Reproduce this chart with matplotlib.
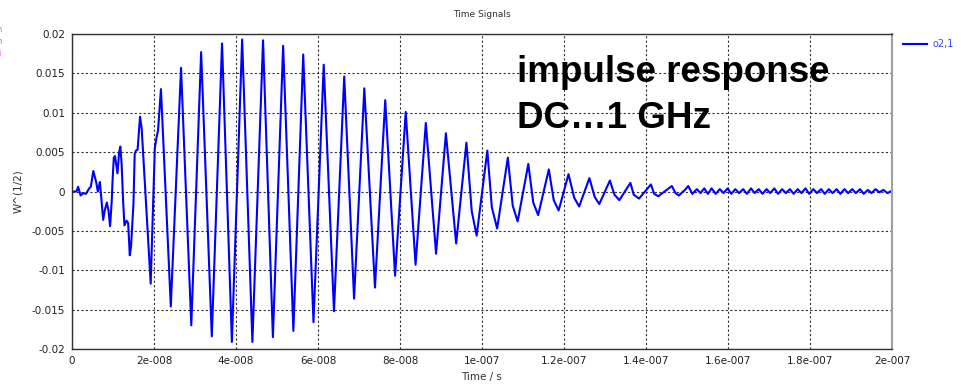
import matplotlib
matplotlib.use("Agg")
import matplotlib.pyplot as plt

# time in ns, amplitude in W^(1/2)
# start of the response (small wiggles, 0..22 ns)
early_t = [0, 1.1, 1.5, 2.1, 2.8, 3.4, 4.2, 4.6, 5.2, 5.9,
           6.3, 6.8, 7.2, 7.6, 8.0, 8.5, 8.9, 9.3, 9.7, 9.9,
           10.2, 10.5, 11.1, 11.5, 11.8, 12.1, 12.5, 12.8, 13.3, 13.7,
           14.1, 14.4, 15.0, 15.3, 15.6, 16.0, 16.4, 16.6, 17.0, 19.2,
           20.2, 20.6, 21.0, 21.7]
early_v = [0, 0, 0.0006, -0.0005, -0.0002, -0.0003, 0.0004, 0.0006, 0.0026, 0.0012,
           0.0000, 0.0012, -0.0011, -0.0036, -0.0024, -0.0014, -0.0024, -0.0044, -0.0011, 0.0014,
           0.0043, 0.0045, 0.0023, 0.0050, 0.0057, 0.0036, -0.0015, -0.0043, -0.0037, -0.0040,
           -0.0081, -0.0070, -0.0015, 0.0048, 0.0052, 0.0053, 0.0082, 0.0095, 0.0080, -0.0117,
           0.0055, 0.0068, 0.0078, 0.0130]

# big swing, troughs and peaks (24..96 ns)
main_t = [24.1, 26.6, 29.1, 31.5, 34.1, 36.6, 39.0, 41.5, 44.0, 46.6,
          49.0, 51.5, 54.0, 56.4, 58.9, 61.4, 63.9, 66.4, 68.8, 71.3,
          73.9, 76.4, 78.8, 81.4, 83.8, 86.3, 88.8, 91.2, 93.7, 96.2]
main_v = [-0.0146, 0.0157, -0.0170, 0.0177, -0.0184, 0.0188, -0.0191, 0.0193, -0.0191, 0.0192,
          -0.0185, 0.0185, -0.0177, 0.0174, -0.0166, 0.0161, -0.0152, 0.0146, -0.0136, 0.0131,
          -0.0122, 0.0116, -0.0107, 0.0101, -0.0093, 0.0087, -0.0079, 0.0074, -0.0066, 0.0062]

# decay with shoulder on falling edge (97..148 ns)
decay_t = [97.5, 98.7, 101.3, 102.4, 103.7, 106.3, 107.5, 108.7, 111.3,
           112.5, 113.7, 116.3, 117.5, 118.7, 121.1, 122.5, 123.7, 126.2,
           127.5, 128.6, 131.2, 132.3, 133.5, 136.2, 137.0, 138.3, 141.2,
           142.0, 143.0, 146.3, 147.2, 148.0]
decay_v = [-0.0025, -0.0056, 0.0052, -0.0020, -0.0047, 0.0043, -0.0018, -0.0038, 0.0035,
           -0.0014, -0.0030, 0.0028, -0.0011, -0.0024, 0.0022, -0.0008, -0.0019, 0.0017,
           -0.0007, -0.0016, 0.0014, -0.0004, -0.0011, 0.0011, -0.0004, -0.0009, 0.0009,
           -0.0003, -0.0006, 0.0007, -0.0002, -0.0005]

# residual ripple (149..200 ns)
tail_t = [149.5, 150.3, 151.3, 152.4, 153.3, 154.2, 155.1, 156.0, 157.0, 158.0,
          158.9, 159.9, 160.8, 161.8, 162.7, 163.7, 164.6, 165.6, 166.5, 167.5,
          168.4, 169.4, 170.3, 171.3, 172.2, 173.2, 174.1, 175.1, 176.0, 177.0,
          177.9, 178.9, 179.8, 180.8, 181.7, 182.7, 183.6, 184.6, 185.5, 186.5,
          187.4, 188.4, 189.3, 190.3, 191.2, 192.2, 193.1, 194.1, 195.0, 196.0,
          196.9, 197.9, 198.9, 200.0]
tail_v = [0.0002, 0.0007, -0.0003, 0.0003, -0.0002, 0.0004, -0.0003, 0.0004, -0.0003, 0.0003,
          -0.0002, 0.0004, -0.0003, 0.0003, -0.0002, 0.0003, -0.0003, 0.0004, -0.0002, 0.0003,
          -0.0003, 0.0003, -0.0002, 0.0004, -0.0003, 0.0003, -0.0002, 0.0003, -0.0003, 0.0003,
          -0.0002, 0.0004, -0.0003, 0.0003, -0.0002, 0.0003, -0.0003, 0.0003, -0.0002, 0.0003,
          -0.0003, 0.0003, -0.0002, 0.0003, -0.0002, 0.0003, -0.0003, 0.0002, -0.0002, 0.0003,
          -0.0001, 0.0002, -0.0002, 0.0001]

x_ticks = [0, 2e-8, 4e-8, 6e-8, 8e-8, 1e-7, 1.2e-7, 1.4e-7, 1.6e-7, 1.8e-7, 2e-7]
x_labels = ["0", "2e-008", "4e-008", "6e-008", "8e-008", "1e-007", "1.2e-007",
            "1.4e-007", "1.6e-007", "1.8e-007", "2e-007"]
y_ticks = [-0.02, -0.015, -0.01, -0.005, 0, 0.005, 0.01, 0.015, 0.02]
y_labels = ["-0.02", "-0.015", "-0.01", "-0.005", "0", "0.005", "0.01", "0.015", "0.02"]


def main():
    plt.rcParams['font.family'] = ['DejaVu Sans']
    fig = plt.figure(figsize=(9.61, 3.90), dpi=100)
    ax = fig.add_axes([0.0749, 0.1051, 0.8533, 0.8077])

    t = [v * 1e-9 for v in early_t + main_t + decay_t + tail_t]
    signal = early_v + main_v + decay_v + tail_v
    ax.plot(t, signal, color="#0000ff", linewidth=1.5, label="o2,1")

    ax.set_xlim(0, 2e-7)
    ax.set_ylim(-0.02, 0.02)
    ax.set_xticks(x_ticks)
    ax.set_xticklabels(x_labels)
    ax.set_yticks(y_ticks)
    ax.set_yticklabels(y_labels)
    ax.tick_params(length=0, labelsize=7.5, colors="#202020", pad=5)
    ax.grid(True, color="#303030", linestyle=(0, (2, 2)), linewidth=0.8)

    for s in ["left", "bottom", "top"]:
        ax.spines[s].set_color("#303030")
        ax.spines[s].set_linewidth(1.0)
    ax.spines["right"].set_color("#a0a0a0")
    ax.spines["right"].set_linewidth(1.5)

    ax.set_title("Time Signals", fontsize=6.5, color="#303030", pad=12)
    ax.set_xlabel("Time / s", fontsize=7.5, color="#303030", labelpad=4)
    ax.set_ylabel("W^(1/2)", fontsize=7.5, color="#303030", labelpad=6)

    ax.legend(loc="upper left", bbox_to_anchor=(1.003, 1.012), frameon=False,
              fontsize=7, labelcolor="#4040ff", handlelength=2.4, handletextpad=0.6)

    fig.text(517 / 961, 1 - 82 / 390, "impulse response", fontsize=26.5,
             fontweight="bold", family="Liberation Sans", va="baseline", ha="left")
    fig.text(517 / 961, 1 - 128 / 390, "DC\u20261 GHz", fontsize=26.5,
             fontweight="bold", family="Liberation Sans", va="baseline", ha="left")

    # slivers of other legend entries cut off at the left edge
    fig.text(-0.004, 1 - 30 / 390, "n", fontsize=6, color="#8080ff", va="center")
    fig.text(-0.004, 1 - 41 / 390, "n", fontsize=6, color="#40c040", va="center")
    fig.text(-0.002, 1 - 53 / 390, "i", fontsize=6, color="#ff40ff", va="center")

    plt.savefig("out.png", dpi=100)


if __name__ == "__main__":
    main()
